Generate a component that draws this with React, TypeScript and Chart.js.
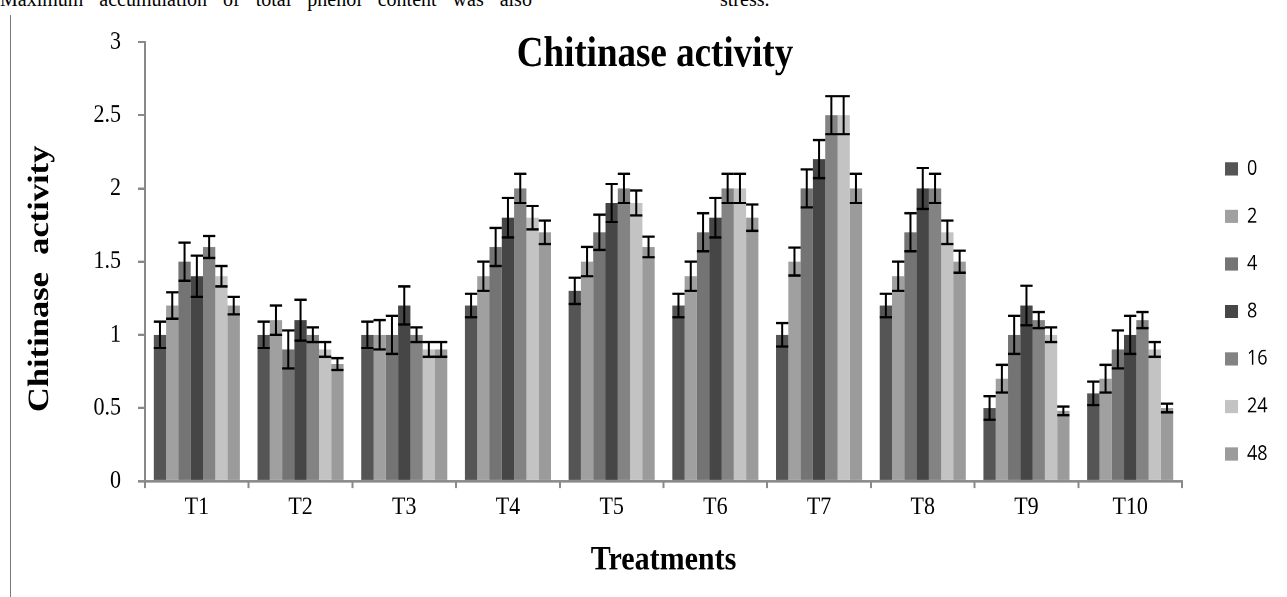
import React, { useEffect, useRef } from "react";
import { Chart, registerables } from "chart.js";

Chart.register(...registerables);

// ---------- data ----------
const CATEGORIES = ["T1", "T2", "T3", "T4", "T5", "T6", "T7", "T8", "T9", "T10"];
const SERIES_LABELS = ["0", "2", "4", "8", "16", "24", "48"];

const H0 = [1.0, 1.0, 1.0, 1.2, 1.3, 1.2, 1.0, 1.2, 0.5, 0.6];
const H2 = [1.2, 1.1, 1.0, 1.4, 1.5, 1.4, 1.5, 1.4, 0.7, 0.7];
const H4 = [1.5, 0.9, 1.0, 1.6, 1.7, 1.7, 2.0, 1.7, 1.0, 0.9];
const H8 = [1.4, 1.1, 1.2, 1.8, 1.9, 1.8, 2.2, 2.0, 1.2, 1.0];
const H16 = [1.6, 1.0, 1.0, 2.0, 2.0, 2.0, 2.5, 2.0, 1.1, 1.1];
const H24 = [1.4, 0.9, 0.9, 1.8, 1.9, 2.0, 2.5, 1.7, 1.0, 0.9];
const H48 = [1.2, 0.8, 0.9, 1.7, 1.6, 1.8, 2.0, 1.5, 0.48, 0.5];

const E0 = [0.09, 0.09, 0.09, 0.08, 0.09, 0.08, 0.08, 0.08, 0.08, 0.08];
const E2 = [0.09, 0.1, 0.1, 0.1, 0.1, 0.1, 0.095, 0.1, 0.095, 0.095];
const E4 = [0.13, 0.13, 0.13, 0.13, 0.12, 0.13, 0.13, 0.13, 0.13, 0.13];
const E8 = [0.14, 0.14, 0.13, 0.135, 0.13, 0.135, 0.13, 0.14, 0.135, 0.13];
const E16 = [0.075, 0.05, 0.05, 0.1, 0.1, 0.1, 0.13, 0.1, 0.055, 0.055];
const E24 = [0.07, 0.05, 0.05, 0.08, 0.085, 0.1, 0.13, 0.08, 0.05, 0.05];
const E48 = [0.06, 0.04, 0.05, 0.08, 0.07, 0.09, 0.1, 0.075, 0.03, 0.03];

const SERIES_VALUES = [H0, H2, H4, H8, H16, H24, H48];
const SERIES_ERRORS = [E0, E2, E4, E8, E16, E24, E48];
const SERIES_COLORS = ["#555555", "#a0a0a0", "#747474", "#464646", "#838383", "#c3c3c3", "#9b9b9b"];

const Y_TICKS = [0, 0.5, 1, 1.5, 2, 2.5, 3];
const Y_TICK_LABELS = ["0", "0.5", "1", "1.5", "2", "2.5", "3"];
const TITLE = "Chitinase activity";
const X_TITLE = "Treatments";
const Y_TITLE = "Chitinase  activity";

const SERIF = "'Liberation Serif', 'Times New Roman', serif";
const AXIS_GREY = "#898989";

// the original picture is slightly stretched vertically
const STRETCH = 597 / 519;
const CHART_H = 519;

// ---------- plugins ----------
const errorBarPlugin = {
  id: "errorBars",
  afterDatasetsDraw(chart: any) {
    const ctx = chart.ctx;
    const yScale = chart.scales.y;
    ctx.save();
    ctx.strokeStyle = "#000";
    ctx.lineWidth = 2;
    chart.data.datasets.forEach((ds: any, di: number) => {
      const meta = chart.getDatasetMeta(di);
      meta.data.forEach((bar: any, i: number) => {
        const v = ds.data[i];
        const e = ds.errors[i];
        const x = bar.x;
        const half = bar.width / 2;
        const yT = yScale.getPixelForValue(v + e);
        const yB = yScale.getPixelForValue(v - e);
        ctx.beginPath();
        ctx.moveTo(x, yT);
        ctx.lineTo(x, yB);
        ctx.moveTo(x - half, yT);
        ctx.lineTo(x + half, yT);
        ctx.moveTo(x - half, yB);
        ctx.lineTo(x + half, yB);
        ctx.stroke();
      });
    });
    ctx.restore();
  },
};

const overlayTitlePlugin = {
  id: "overlayTitle",
  afterDraw(chart: any) {
    const ctx = chart.ctx;
    const ca = chart.chartArea;
    ctx.save();
    ctx.font = `bold 37px ${SERIF}`;
    ctx.fillStyle = "#000";
    ctx.textAlign = "center";
    ctx.textBaseline = "alphabetic";
    ctx.fillText(TITLE, ca.left + ca.width * 0.4918, ca.top + 21);
    ctx.restore();
  },
};

// draws the rotated y-axis title a little below the chart-area centre, as in the original
const yTitlePlugin = {
  id: "yTitleOffset",
  afterDraw(chart: any) {
    const ctx = chart.ctx;
    const ca = chart.chartArea;
    ctx.save();
    ctx.font = `bold 30px ${SERIF}`;
    ctx.fillStyle = "#000";
    ctx.textAlign = "center";
    ctx.textBaseline = "middle";
    ctx.translate(40, (ca.top + ca.bottom) / 2 + 15);
    ctx.rotate(-Math.PI / 2);
    ctx.fillText(Y_TITLE, 0, 0);
    ctx.restore();
  },
};

export default function App() {
  const canvasRef = useRef<HTMLCanvasElement | null>(null);

  useEffect(() => {
    if (!canvasRef.current) return;
    const chart = new Chart(canvasRef.current, {
      type: "bar",
      data: {
        labels: CATEGORIES,
        datasets: SERIES_LABELS.map((label, i) => ({
          label,
          data: SERIES_VALUES[i],
          errors: SERIES_ERRORS[i],
          backgroundColor: SERIES_COLORS[i],
          borderWidth: 0,
          categoryPercentage: 0.83,
          barPercentage: 1.0,
        })) as any,
      },
      options: {
        animation: false,
        responsive: true,
        maintainAspectRatio: false,
        devicePixelRatio: 2,
        layout: { padding: { top: 36.5, bottom: 14, left: 0, right: 9.4 } },
        plugins: {
          title: { display: false },
          tooltip: { enabled: false },
          legend: {
            position: "right",
            labels: {
              boxWidth: 13,
              boxHeight: 11.5,
              padding: 23.3,
              color: "#000",
              font: { family: "'Open Sans', sans-serif", size: 18 },
            },
          },
        },
        scales: {
          x: {
            grid: {
              display: true,
              drawOnChartArea: false,
              drawTicks: true,
              tickLength: 6,
              color: AXIS_GREY,
              lineWidth: 2,
            },
            border: { display: true, color: AXIS_GREY, width: 2 },
            ticks: {
              color: "#000",
              padding: 3.5,
              font: { family: SERIF, size: 22, lineHeight: 1.2 },
            },
            title: {
              display: true,
              text: X_TITLE,
              color: "#000",
              font: { family: SERIF, size: 30, weight: "bold", lineHeight: 1.2 },
              padding: { top: 0, bottom: 0 },
            },
            afterFit: (s: any) => {
              s.height = 86.7;
            },
          },
          y: {
            min: 0,
            max: 3,
            grid: {
              display: true,
              drawOnChartArea: false,
              drawTicks: true,
              tickLength: 7,
              color: AXIS_GREY,
              lineWidth: 2,
            },
            border: { display: true, color: AXIS_GREY, width: 2 },
            afterBuildTicks: (s: any) => {
              s.ticks = Y_TICKS.map((v) => ({ value: v }));
            },
            ticks: {
              color: "#000",
              padding: 17,
              font: { family: SERIF, size: 22, lineHeight: 1.2 },
              callback: (_v: any, index: number) => Y_TICK_LABELS[index],
            },
            title: { display: false, text: Y_TITLE },
            afterFit: (s: any) => {
              s.width = 145;
            },
          },
          gap: {
            type: "linear",
            position: "right",
            display: true,
            grid: { display: false, drawTicks: false },
            border: { display: false },
            ticks: { display: false },
            afterFit: (s: any) => {
              s.width = 19.7;
            },
          },
        },
      } as any,
      plugins: [errorBarPlugin, overlayTitlePlugin, yTitlePlugin],
    });
    return () => chart.destroy();
  }, []);

  return (
    <div style={{ position: "absolute", left: 0, top: 0, width: 1287, height: 597, overflow: "hidden", background: "#fff" }}>
      <div
        style={{
          position: "absolute",
          left: 0,
          top: -12,
          fontFamily: SERIF,
          fontSize: 20,
          lineHeight: "23px",
          whiteSpace: "nowrap",
          wordSpacing: "11px",
        }}
      >
        Maximum accumulation of total phenol content was also
      </div>
      <div
        style={{
          position: "absolute",
          left: 720,
          top: -12,
          fontFamily: SERIF,
          fontSize: 20,
          lineHeight: "23px",
          whiteSpace: "nowrap",
        }}
      >
        stress.
      </div>
      <div
        style={{
          position: "absolute",
          left: 0,
          top: 0,
          width: 1287,
          height: CHART_H,
          transform: `scaleY(${STRETCH})`,
          transformOrigin: "0 0",
        }}
      >
        <canvas ref={canvasRef} />
      </div>
      <div style={{ position: "absolute", left: 10, top: 15, width: 1, height: 582, background: "#7a7a7a" }} />
    </div>
  );
}
